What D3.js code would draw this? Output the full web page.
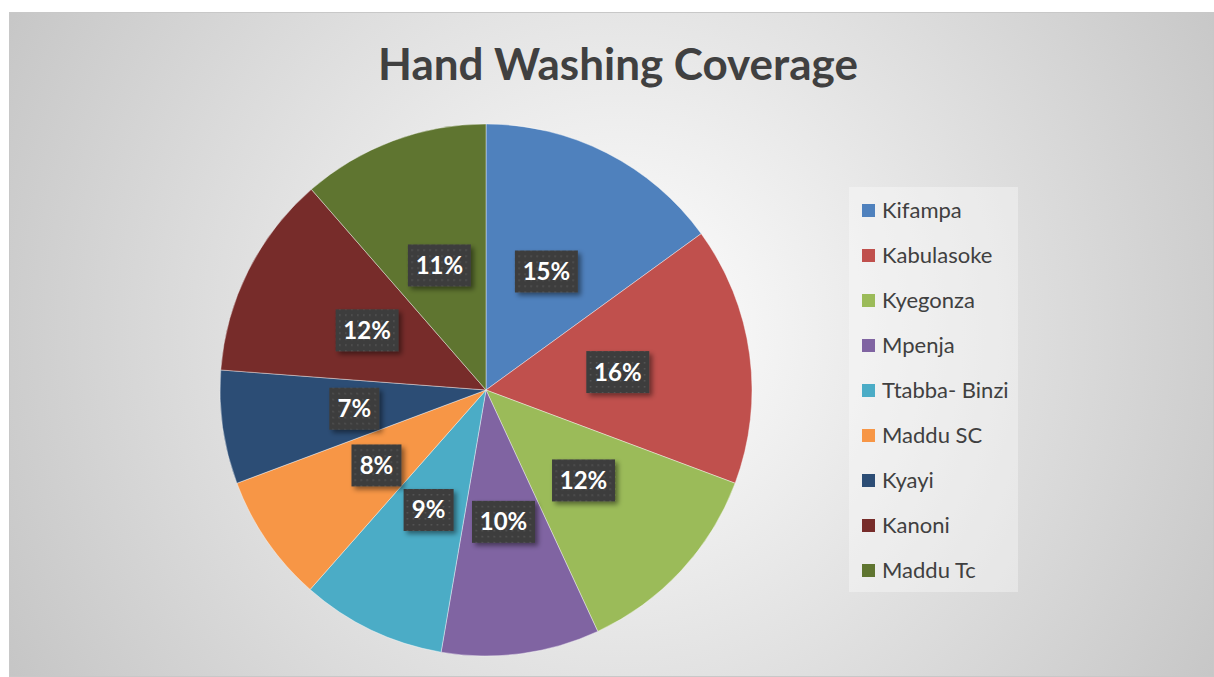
<!DOCTYPE html>
<html><head><meta charset="utf-8">
<script src="https://cdn.jsdelivr.net/npm/d3@7"></script>
<style>html,body{margin:0;padding:0;background:#fff;}svg{display:block;}</style>
</head><body>
<script>
const categories = ["Kifampa","Kabulasoke","Kyegonza","Mpenja","Ttabba- Binzi","Maddu SC","Kyayi","Kanoni","Maddu Tc"];
const values = [15.0,15.7,12.4,9.6,8.8,7.8,6.9,12.4,11.4];
const colors = ["#4f81bd","#c0504d","#9bbb59","#8064a2","#4bacc6","#f79646","#2c4d75","#772c2a","#5f7530"];
const title = "Hand Washing Coverage";

const W = 1214, H = 677;
const svg = d3.select("body").append("svg").attr("width", W).attr("height", H);
const defs = svg.append("defs");
const rg = defs.append("radialGradient").attr("id","bg").attr("gradientUnits","userSpaceOnUse")
  .attr("cx",620).attr("cy",330).attr("r",720);
rg.append("stop").attr("offset","0%").attr("stop-color","#ffffff");
rg.append("stop").attr("offset","100%").attr("stop-color","#c4c4c4");

const pat = defs.append("pattern").attr("id","dots").attr("patternUnits","userSpaceOnUse").attr("width",6).attr("height",6);
pat.append("rect").attr("width",6).attr("height",6).attr("fill","#3d3d3d");
pat.append("rect").attr("x",2).attr("y",2).attr("width",1.5).attr("height",1.5).attr("fill","#575757");

const sh = defs.append("filter").attr("id","shadow").attr("x","-20%").attr("y","-20%").attr("width","150%").attr("height","160%");
sh.append("feDropShadow").attr("dx",3).attr("dy",3).attr("stdDeviation",2.5).attr("flood-color","#000").attr("flood-opacity",0.45);

svg.append("rect").attr("x",9.5).attr("y",12.5).attr("width",W-10).attr("height",H-13)
  .attr("fill","url(#bg)").attr("stroke","#c8c8c8").attr("stroke-width",1);

svg.append("text").attr("x",618).attr("y",80).attr("text-anchor","middle")
  .attr("font-family","Lato, 'Open Sans', sans-serif").attr("font-weight","bold").attr("font-size",44)
  .attr("fill","#404040").text(title);

const cx = 486, cy = 390, r = 266;
const total = d3.sum(values);
const pie = d3.pie().sort(null).value(d => d)(values);
const arc = d3.arc().innerRadius(0).outerRadius(r);
const labelArc = d3.arc().innerRadius(r*0.5).outerRadius(r*0.5);
const g = svg.append("g").attr("transform",`translate(${cx},${cy})`);
g.selectAll("path.slice").data(pie).join("path").attr("class","slice")
  .attr("d",arc).attr("fill",(d,i)=>colors[i]).attr("stroke","#ffffff").attr("stroke-opacity",0.5).attr("stroke-width",0.8);

const lab = g.selectAll("g.lab").data(pie).join("g").attr("class","lab")
  .attr("transform",d=>`translate(${labelArc.centroid(d)})`);
lab.each(function(d){
  const s = d3.select(this);
  const txt = Math.round(d.data/total*100) + "%";
  const w = txt.length === 2 ? 50 : 63;
  s.append("rect").attr("x",-w/2).attr("y",-21).attr("width",w).attr("height",42)
    .attr("fill","url(#dots)").attr("filter","url(#shadow)");
  s.append("text").attr("text-anchor","middle").attr("y",8.5)
    .attr("font-family","Lato, 'Open Sans', sans-serif").attr("font-weight","bold").attr("font-size",24)
    .attr("fill","#ffffff").text(txt);
});

const lg = svg.append("g");
lg.append("rect").attr("x",849).attr("y",187).attr("width",169).attr("height",405)
  .attr("fill","#ffffff").attr("fill-opacity",0.35);
const items = lg.selectAll("g.item").data(categories).join("g").attr("class","item")
  .attr("transform",(d,i)=>`translate(862,${210 + i*45})`);
items.append("rect").attr("x",0).attr("y",-6).attr("width",13).attr("height",13).attr("fill",(d,i)=>colors[i]);
items.append("text").attr("x",20).attr("y",7.5).attr("font-family","Lato, 'Open Sans', sans-serif")
  .attr("font-size",22).attr("fill","#404040").text(d=>d);
</script>
</body></html>
